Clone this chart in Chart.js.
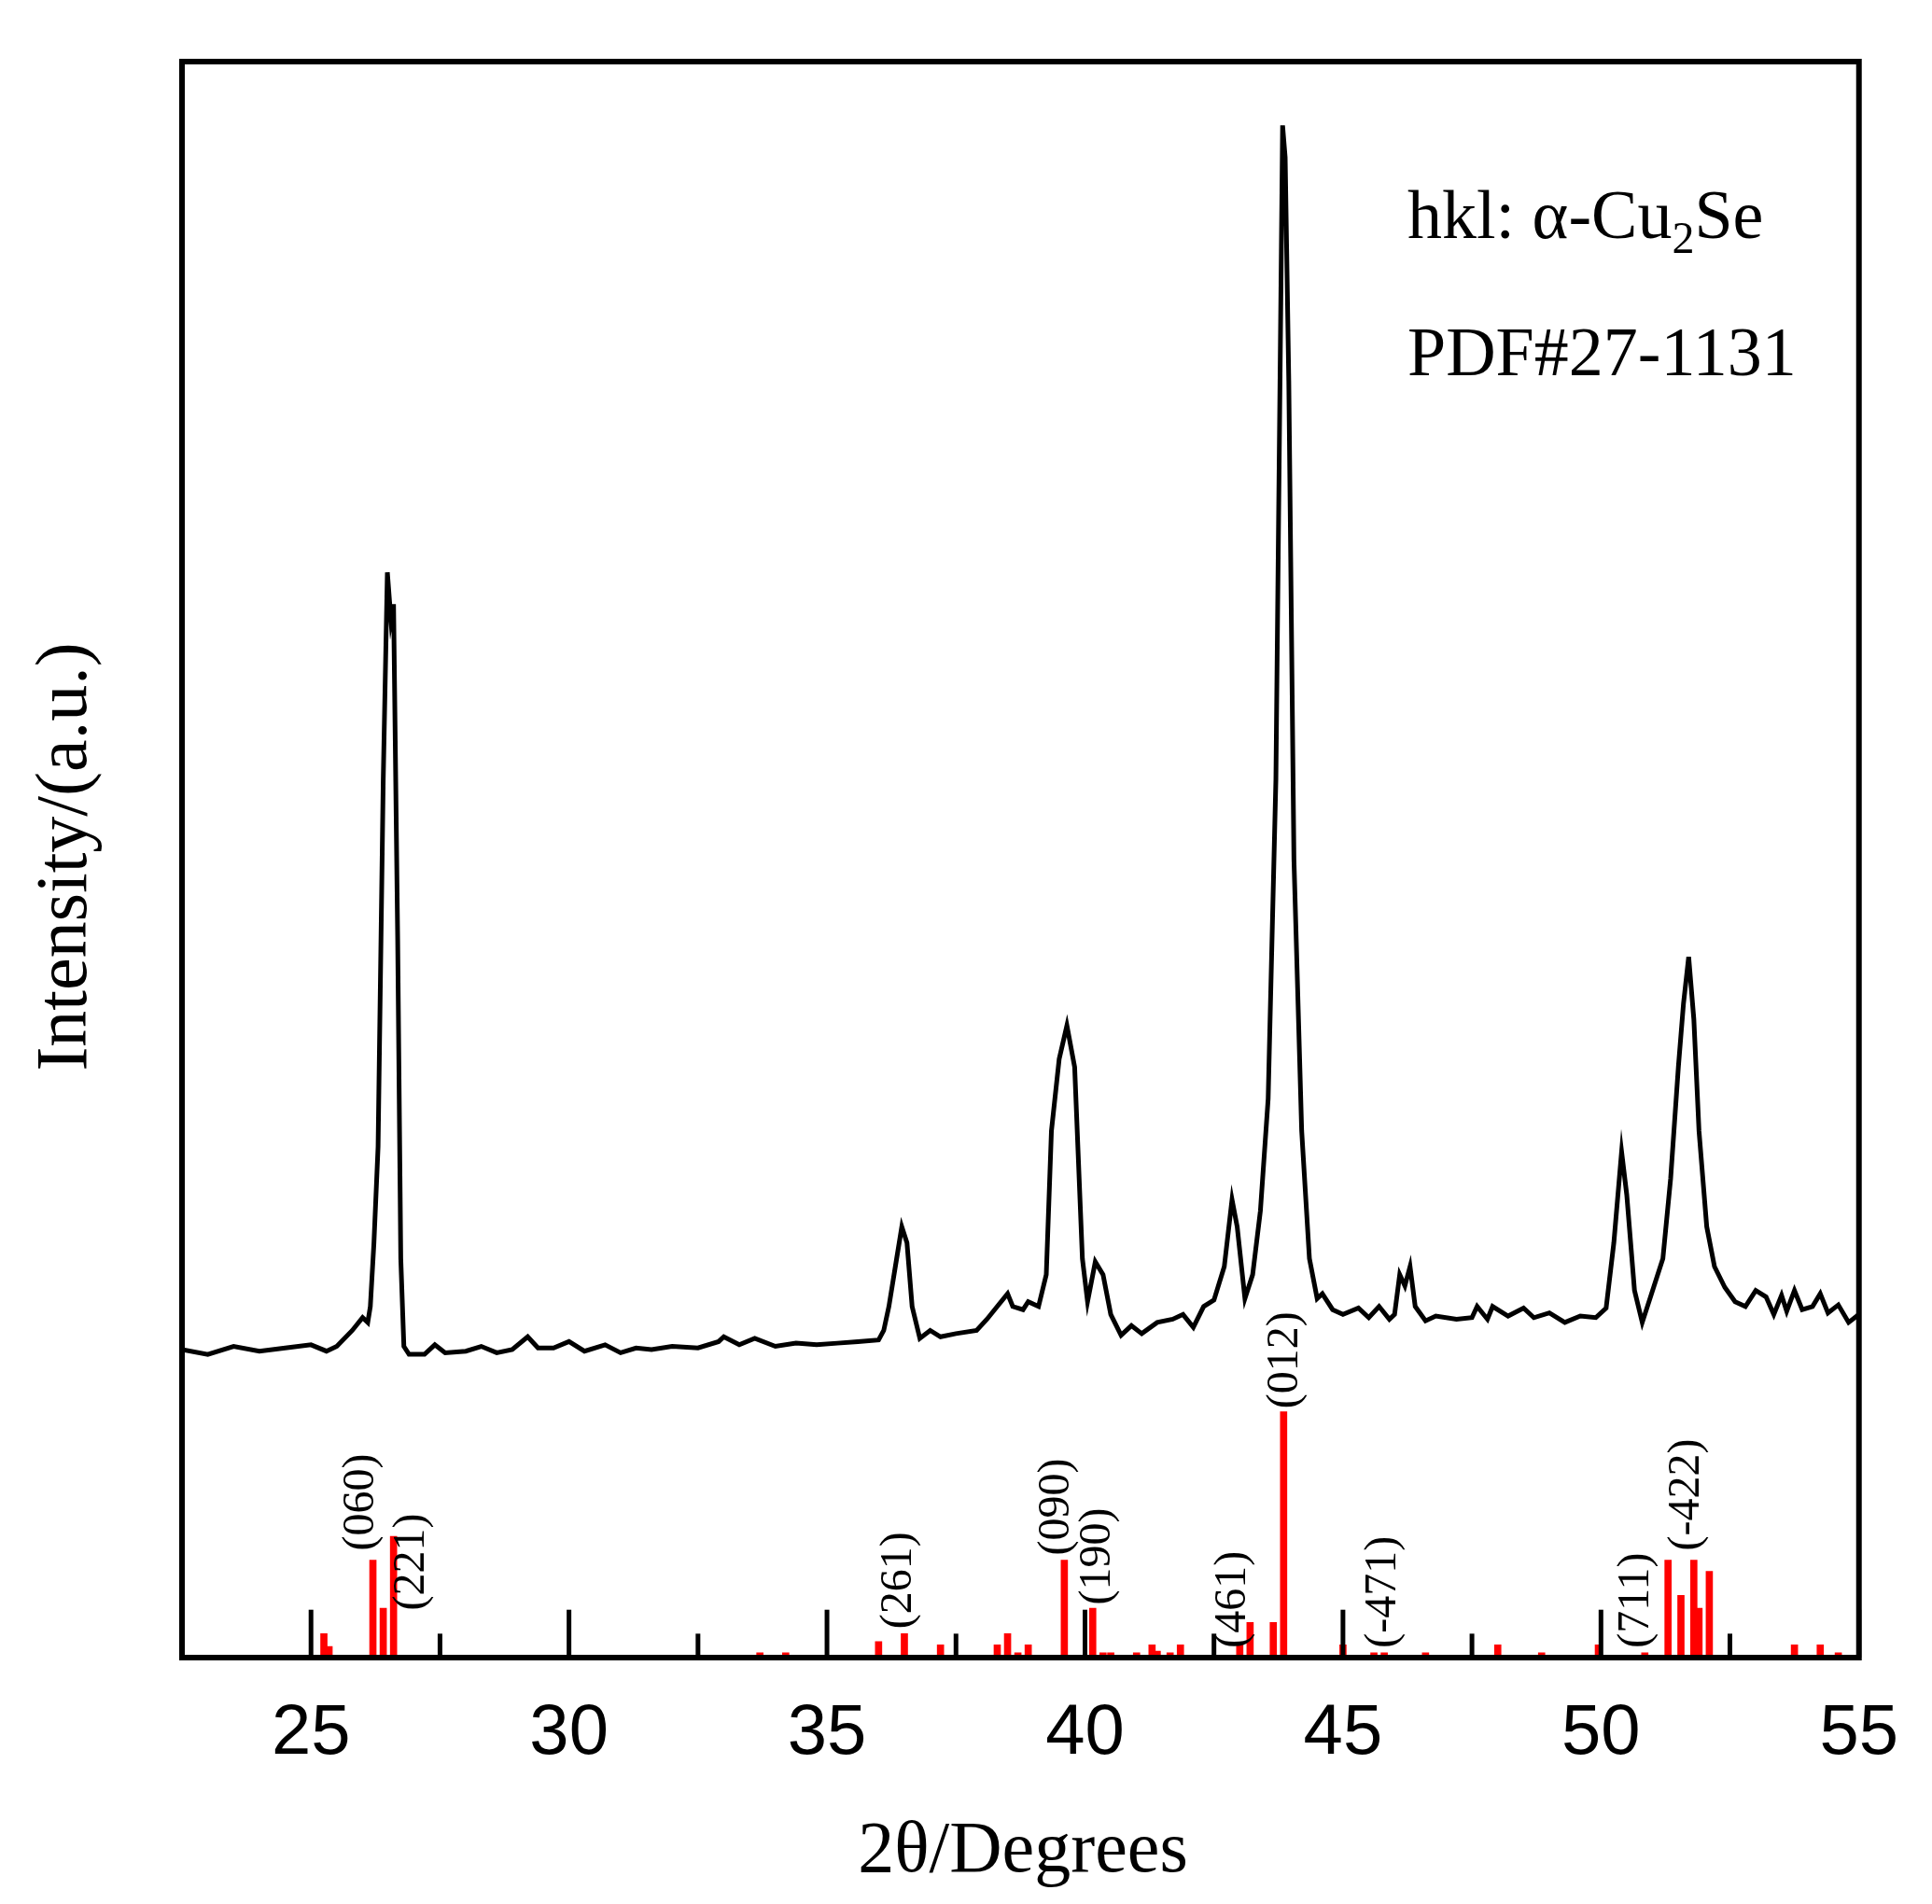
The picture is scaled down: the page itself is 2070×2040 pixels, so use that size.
<!DOCTYPE html>
<html><head><meta charset="utf-8">
<script src="https://cdn.jsdelivr.net/npm/chart.js@4"></script>
<style>html,body{margin:0;padding:0;background:#fff}#wrap{width:2070px;height:2040px}</style>
</head><body><div id="wrap"><canvas id="c" width="2070" height="2040"></canvas></div>
<script>
const patternX = [22.5,23.0,23.5,24.0,24.5,25.0,25.3,25.5,25.8,26.0,26.1,26.15,26.22,26.3,26.4,26.48,26.55,26.6,26.68,26.74,26.8,26.9,27.2,27.4,27.6,28.0,28.3,28.6,28.9,29.2,29.4,29.7,30.0,30.3,30.7,31.0,31.3,31.6,32.0,32.5,32.9,33.0,33.3,33.6,34.0,34.4,34.8,35.2,35.6,36.0,36.1,36.2,36.35,36.45,36.55,36.65,36.8,37.0,37.2,37.5,37.9,38.1,38.3,38.5,38.6,38.8,38.9,39.1,39.25,39.35,39.5,39.65,39.8,39.95,40.05,40.2,40.35,40.5,40.7,40.9,41.1,41.4,41.7,41.9,42.1,42.3,42.5,42.7,42.85,42.95,43.1,43.25,43.4,43.55,43.7,43.78,43.83,43.88,43.95,44.05,44.2,44.35,44.5,44.6,44.8,45.0,45.3,45.5,45.7,45.9,46.0,46.1,46.2,46.3,46.4,46.6,46.8,47.2,47.5,47.6,47.8,47.9,48.2,48.5,48.7,49.0,49.3,49.6,49.9,50.1,50.25,50.4,50.5,50.65,50.8,51.0,51.2,51.35,51.5,51.6,51.7,51.8,51.9,52.05,52.2,52.4,52.6,52.8,53.0,53.2,53.35,53.5,53.6,53.75,53.9,54.1,54.25,54.4,54.6,54.8,55.0];
const patternY = [19.3,19.0,19.5,19.2,19.4,19.6,19.2,19.5,20.5,21.3,21.0,22.0,26,32,55,68,65,66,45,25,19.5,19.0,19.0,19.6,19.1,19.2,19.5,19.1,19.3,20.1,19.4,19.4,19.8,19.2,19.6,19.1,19.4,19.3,19.5,19.4,19.8,20.1,19.6,20.0,19.5,19.7,19.6,19.7,19.8,19.9,20.5,22,25,27,26,22,20.0,20.5,20.1,20.3,20.5,21.2,22.0,22.8,22.0,21.8,22.3,22.0,24,33,37.5,39.6,37,25,22.3,24.8,24,21.5,20.2,20.8,20.3,21.0,21.2,21.5,20.7,22.0,22.4,24.5,28.7,27,22.5,24,28,35,55,80,96,94,80,50,33,25,22.5,22.8,21.8,21.5,21.9,21.3,22.0,21.2,21.5,24,23.3,24.5,22.0,21.1,21.4,21.2,21.3,22.0,21.2,22.0,21.4,21.9,21.3,21.6,21.0,21.4,21.3,21.9,26,31.7,29,23,21.0,23,25,30,37,41,43.9,40,33,27,24.5,23.2,22.3,22.0,23.0,22.6,21.5,22.7,21.7,23.0,21.8,22.0,22.8,21.6,22.1,21.0,21.5];
const stickX = [25.25,25.35,26.2,26.4,26.6,33.7,34.2,36.0,36.5,37.2,38.3,38.5,38.7,38.9,39.6,40.15,40.35,40.5,41.0,41.3,41.4,41.65,41.85,43.0,43.2,43.65,43.85,45.0,45.6,45.8,46.6,48.0,48.85,49.95,50.85,51.3,51.55,51.8,51.9,52.1,53.75,54.25,54.6];
const stickY = [1.5,0.7,6.1,3.1,7.6,0.3,0.3,1.0,1.5,0.8,0.8,1.5,0.3,0.8,6.1,3.1,0.3,0.3,0.3,0.8,0.4,0.3,0.8,0.8,2.2,2.2,15.4,0.8,0.3,0.3,0.3,0.8,0.3,0.8,0.3,6.1,3.9,6.1,3.1,5.4,0.8,0.8,0.3];
const hklLabels = ['(060)','(221)','(261)','(090)','(190)','(461)','(012)','(-471)','(711)','(-422)'];
const hklX = [25.98,26.96,36.4,39.46,40.25,42.88,43.88,45.79,50.68,51.66];
const hklY = [6.7,2.95,1.8,6.4,3.3,0.6,15.6,0.6,0.6,6.7];
const xTickValues = [25,30,35,40,45,50,55];
const minorTickValues = [27.5,32.5,37.5,42.5,47.5,52.5];

const L=195,R=2001,T=66,B=1776;
const deco = {
  id:'deco',
  afterDatasetsDraw(chart){
    const ctx=chart.ctx, xs=chart.scales.x, ys=chart.scales.y;
    ctx.save();
    ctx.strokeStyle='#000'; ctx.lineWidth=5;
    const base=ys.getPixelForValue(0);
    xTickValues.forEach(v=>{const p=xs.getPixelForValue(v);ctx.beginPath();ctx.moveTo(p,base);ctx.lineTo(p,ys.getPixelForValue(3.0));ctx.stroke();});
    minorTickValues.forEach(v=>{const p=xs.getPixelForValue(v);ctx.beginPath();ctx.moveTo(p,base);ctx.lineTo(p,ys.getPixelForValue(1.5));ctx.stroke();});
    ctx.lineWidth=6;
    ctx.strokeRect(chart.chartArea.left,chart.chartArea.top,chart.chartArea.right-chart.chartArea.left,chart.chartArea.bottom-chart.chartArea.top);
    ctx.fillStyle='#000';
    ctx.font='48px "Liberation Serif"';
    ctx.textAlign='left'; ctx.textBaseline='middle';
    hklLabels.forEach((t,i)=>{
      const px=xs.getPixelForValue(hklX[i]), py=ys.getPixelForValue(hklY[i]);
      ctx.save(); ctx.translate(px,py); ctx.rotate(-Math.PI/2); ctx.fillText(t,0,0); ctx.restore();
    });
    ctx.textBaseline='alphabetic';
    let x=1508, y=255;
    const parts=[['hkl: α-Cu',0],['2',1],['Se',0]];
    parts.forEach(([s,sub])=>{
      ctx.font=sub?'48px "Liberation Serif"':'74px "Liberation Serif"';
      ctx.fillText(s,x,y+(sub?16:0)); x+=ctx.measureText(s).width;
    });
    ctx.font='74px "Liberation Serif"';
    ctx.fillText('PDF#27-1131',1508,402);
    ctx.textAlign='center';
    ctx.font='78px "Liberation Serif"';
    ctx.fillText('2θ/Degrees',1096,2005);
    ctx.save(); ctx.translate(92,918); ctx.rotate(-Math.PI/2);
    ctx.fillText('Intensity/(a.u.)',0,0); ctx.restore();
    ctx.restore();
  }
};

new Chart(document.getElementById('c'),{
  type:'bar',
  data:{datasets:[
    {type:'line',data:patternX.map((x,i)=>({x,y:patternY[i]})),borderColor:'#000',borderWidth:5,pointRadius:0,tension:0,order:1},
    {type:'bar',data:stickX.map((x,i)=>({x,y:stickY[i]})),backgroundColor:'#ff0000',barThickness:7,order:2}
  ]},
  plugins:[deco],
  options:{
    responsive:false,animation:false,devicePixelRatio:1,
    layout:{padding:{top:T,right:2070-R,left:0,bottom:0}},
    plugins:{legend:{display:false},tooltip:{enabled:false}},
    scales:{
      x:{type:'linear',min:22.5,max:55,offset:false,
        afterFit:s=>{s.height=2040-B;},
        grid:{display:false,drawTicks:false},border:{display:false},
        ticks:{stepSize:2.5,autoSkip:false,maxRotation:0,padding:36,color:'#000',
          font:{family:'"Liberation Sans"',size:76},
          callback:v=>(v%5===0?String(v):'')}},
      y:{min:0,max:100,afterFit:s=>{s.width=L;},
        grid:{display:false},border:{display:false},ticks:{display:false}}
    }
  }
});
</script></body></html>
